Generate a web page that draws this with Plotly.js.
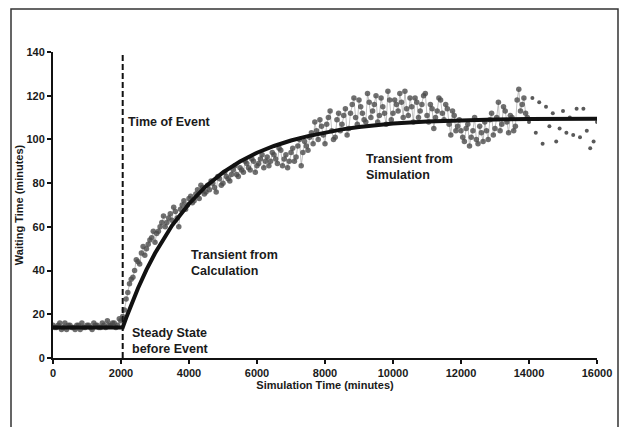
<!DOCTYPE html>
<html>
<head>
<meta charset="utf-8">
<script src="https://cdn.plot.ly/plotly-3.0.1.min.js"></script>
<style>html,body{margin:0;padding:0;background:#fff;}#chart{width:624px;height:427px;}</style>
</head>
<body>
<div id="chart"></div>
<script>
// Simulated waiting time (dense part), x in minutes
const simX = [
0,50,100,150,200,250,300,350,400,450,500,550,600,650,700,750,800,850,900,950,
1000,1050,1100,1150,1200,1250,1300,1350,1400,1450,1500,1550,1600,1650,1700,1750,1800,1850,1900,1950,
2000,2050,2100,2150,2200,2250,2300,2350,2400,2450,2500,2550,2600,2650,2700,2750,2800,2850,2900,2950,
3000,3050,3100,3150,3200,3250,3300,3350,3400,3450,3500,3550,3600,3650,3700,3750,3800,3850,3900,3950,
4000,4050,4100,4150,4200,4250,4300,4350,4400,4450,4500,4550,4600,4650,4700,4750,4800,4850,4900,4950,
5000,5050,5100,5150,5200,5250,5300,5350,5400,5450,5500,5550,5600,5650,5700,5750,5800,5850,5900,5950,
6000,6050,6100,6150,6200,6250,6300,6350,6400,6450,6500,6550,6600,6650,6700,6750,6800,6850,6900,6950,
7000,7050,7100,7150,7200,7250,7300,7350,7400,7450,7500,7550,7600,7650,7700,7750,7800,7850,7900,7950,
8000,8050,8100,8150,8200,8250,8300,8350,8400,8450,8500,8550,8600,8650,8700,8750,8800,8850,8900,8950,
9000,9050,9100,9150,9200,9250,9300,9350,9400,9450,9500,9550,9600,9650,9700,9750,9800,9850,9900,9950,
10000,10050,10100,10150,10200,10250,10300,10350,10400,10450,10500,10550,10600,10650,10700,10750,10800,10850,10900,10950,
11000,11050,11100,11150,11200,11250,11300,11350,11400,11450,11500,11550,11600,11650,11700,11750,11800,11850,11900,11950,
12000,12050,12100,12150,12200,12250,12300,12350,12400,12450,12500,12550,12600,12650,12700,12750,12800,12850,12900,12950,
13000,13050,13100,13150,13200,13250,13300,13350,13400,13450,13500,13550,13600,13650,13700,13750,13800,13850,13900,13950];
const simY = [
15,14,14,15,16,13,14,16,13,15,15,14,14,13,15,15,13,16,14,14,
15,15,14,13,16,15,15,14,14,16,15,14,17,15,15,16,16,14,15,18,
17,19,22,27,30,34,36,37,40,45,44,43,48,51,47,50,52,54,55,58,
53,57,58,60,62,65,60,62,64,66,63,69,67,64,60,68,70,72,68,70,
73,74,71,72,75,77,73,79,78,75,76,79,77,81,80,78,76,83,82,79,
80,85,83,82,81,84,86,88,84,83,87,86,85,90,89,87,86,91,90,85,
88,89,91,93,87,90,92,88,90,94,93,91,89,96,95,88,91,93,87,90,
94,96,90,92,97,100,88,94,99,97,95,101,103,98,108,104,100,109,106,102,
98,107,110,113,104,100,101,109,112,104,107,111,114,102,105,112,116,119,110,107,
118,115,112,109,108,121,117,110,113,116,120,108,111,119,115,112,107,122,118,109,
112,118,116,113,121,117,110,122,114,111,119,115,108,119,117,110,113,116,120,121,
111,108,116,114,105,110,113,119,118,112,109,116,114,107,102,113,111,104,106,109,
104,101,99,105,107,97,101,104,110,100,98,106,103,99,108,104,100,109,112,102,
105,110,117,104,107,115,113,108,103,111,110,104,106,118,123,113,116,119,112,110];
// Sparse tail of the simulation
const tailX = [14000,14100,14200,14300,14400,14500,14600,14700,14800,14900,15000,15100,15200,15300,15400,15500,15600,15700,15800,15900,16000];
const tailY = [108,119,103,117,98,115,106,112,99,105,113,103,110,102,114,101,114,104,96,99,108];
// Calculated transient
const calcX = [0,1000,2050,2150,2250,2500,2750,3000,3500,4000,4500,5000,5500,6000,6500,7000,7500,8000,8500,9000,9500,10000,11000,12000,13000,14000,15000,16000];
const calcY = [14,14,14,18.3,22.4,31.9,40.4,47.9,60.6,70.6,78.6,84.9,89.9,93.9,97.0,99.5,101.5,103.2,104.6,105.7,106.6,107.3,108.2,108.8,109.1,109.3,109.4,109.5];
const eventTime = 2050;
const xTicks = [0,2000,4000,6000,8000,10000,12000,14000,16000];
const yTicks = [0,20,40,60,80,100,120,140];

const F = {family: '"Liberation Sans", Arial, sans-serif', color: '#1a1a1a', size: 11, weight: 'bold'};
const FA = {...F, size: 12.5};

const traces = [
  {x: simX, y: simY, mode: 'lines+markers', type: 'scatter',
   line: {color: 'rgba(140,140,140,0.55)', width: 1},
   marker: {color: 'rgba(75,75,75,0.8)', size: 5.5}, hoverinfo: 'skip'},
  {x: tailX, y: tailY, mode: 'markers', type: 'scatter',
   marker: {color: 'rgba(60,60,60,0.85)', size: 4}, hoverinfo: 'skip'},
  {x: calcX, y: calcY, mode: 'lines', type: 'scatter', line: {color: '#111', width: 4}, hoverinfo: 'skip'}
];

const layout = {
  width: 624, height: 427, showlegend: false,
  paper_bgcolor: '#fff', plot_bgcolor: '#fff',
  margin: {l: 53, r: 27, t: 52, b: 69},
  font: F,
  xaxis: {range: [0, 16000], tickvals: xTicks, ticktext: xTicks.map(String),
    showgrid: false, zeroline: false, showline: true, linecolor: '#111', linewidth: 2,
    ticks: 'outside', ticklen: 4, tickwidth: 2, tickcolor: '#111',
    tickfont: F, title: {text: 'Simulation Time (minutes)', font: F, standoff: 1}},
  yaxis: {range: [0, 140], tickvals: yTicks, ticktext: yTicks.map(String),
    showgrid: false, zeroline: false, showline: true, linecolor: '#111', linewidth: 2,
    ticks: 'outside', ticklen: 4, tickwidth: 2, tickcolor: '#111',
    tickfont: F, title: {text: 'Waiting Time (minutes)', font: F, standoff: 1}},
  shapes: [
    {type: 'line', xref: 'x', yref: 'y', x0: eventTime, x1: eventTime, y0: 0, y1: 140,
     line: {color: '#111', width: 2, dash: '6px,3px'}},
    {type: 'rect', xref: 'paper', yref: 'paper', x0: -0.0772, x1: 1.0386, y0: -0.25, y1: 1.1405,
     line: {color: '#333', width: 1.5}}
  ],
  annotations: [
    {text: 'Time of Event', x: 2150, y: 108, xref: 'x', yref: 'y', xanchor: 'left', yanchor: 'middle', showarrow: false, font: FA},
    {text: 'Transient from<br>Calculation', x: 4000, y: 43.5, xref: 'x', yref: 'y', xanchor: 'left', yanchor: 'middle', showarrow: false, align: 'left', font: FA},
    {text: 'Steady State<br>before Event', x: 2250, y: 8, xref: 'x', yref: 'y', xanchor: 'left', yanchor: 'middle', showarrow: false, align: 'left', font: FA},
    {text: 'Transient from<br>Simulation', x: 9150, y: 87.5, xref: 'x', yref: 'y', xanchor: 'left', yanchor: 'middle', showarrow: false, align: 'left', font: FA}
  ]
};

Plotly.newPlot('chart', traces, layout, {displayModeBar: false, staticPlot: true});
</script>
</body>
</html>
